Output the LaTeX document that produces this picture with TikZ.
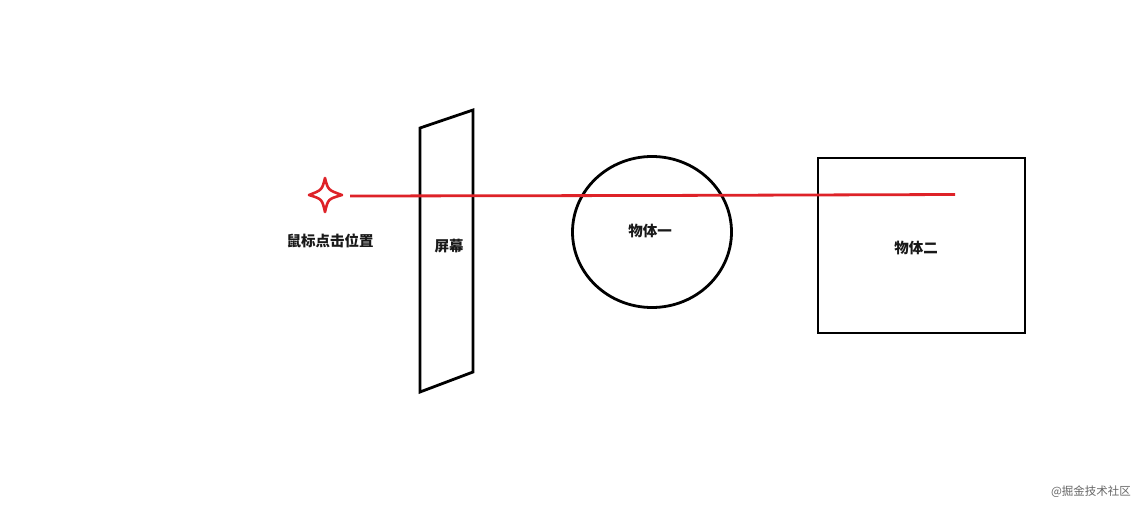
\documentclass[tikz,border=0pt]{standalone}
\usepackage{fontspec}
\newfontfamily\cjk{Noto Sans CJK SC}
\usetikzlibrary{shapes.geometric}
\definecolor{rayred}{RGB}{222,34,40}
\tikzset{
  outline/.style={draw=black,line width=2.8pt},
  lbl/.style={font=\cjk\bfseries\fontsize{14.5}{16}\selectfont,text=black!90,inner sep=0pt},
  ray/.style={draw=rayred,line width=2.8pt},
}
\begin{document}
\begin{tikzpicture}[x=1pt,y=-1pt]
\useasboundingbox[fill=white] (0,0) rectangle (1143,508);
% star (mouse click position)
\coordinate (st) at (325,195);
\draw[draw=rayred,line width=2.6pt,line join=round]
  (325,178) .. controls (328,190) .. (342,195)
  .. controls (328,199) .. (325,212)
  .. controls (322,199) .. (309,195)
  .. controls (322,190) .. cycle;
\node[lbl] (click) at (330,241) {鼠标点击位置};
% screen
\draw[outline,line join=miter] (420,128) -- (473,110) -- (473,372) -- (420,392) -- cycle;
\node[lbl] (screen) at (449,246) {屏幕};
% object one
\node[outline,ellipse,minimum width=159pt,minimum height=151pt,inner sep=0pt] (obj1) at (652,232) {};
\node[lbl] (obj1lbl) at (650,231) {物体一};
% object two
\node[outline,rectangle,minimum width=207pt,minimum height=175pt,inner sep=0pt] (obj2) at (921.5,245.5) {};
\node[lbl] (obj2lbl) at (916,248) {物体二};
% ray
\coordinate (rayA) at (350,196);
\coordinate (rayM) at (652,195.5);
\coordinate (rayB) at (955,194.5);
\draw[ray,line join=round] (rayA) -- (rayM) -- (rayB);
% watermark
\node[font=\cjk\fontsize{11.5}{13}\selectfont,text=black!60,inner sep=0pt] (wm) at (1091,492) {@掘金技术社区};
\end{tikzpicture}
\end{document}
